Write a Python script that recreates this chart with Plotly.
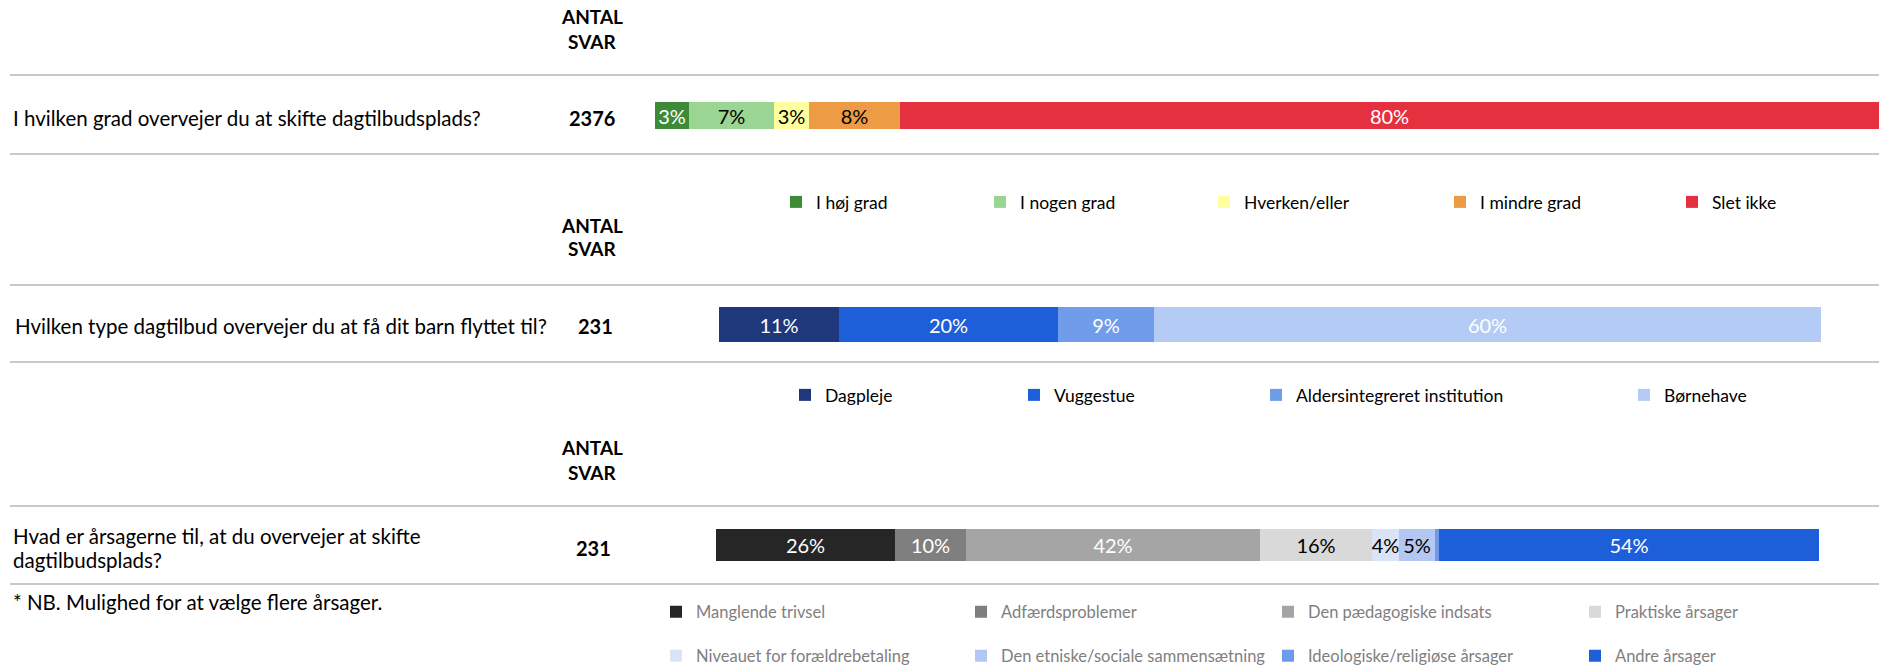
import plotly.graph_objects as go

W, H = 1885, 667

# ---------------- data ----------------
header_lines = ["ANTAL", "SVAR"]

q1_text = ["I hvilken grad overvejer du at skifte dagtilbudsplads?"]
q1_n = "2376"
q1_cats = ["I høj grad", "I nogen grad", "Hverken/eller", "I mindre grad", "Slet ikke"]
q1_vals = [2.8, 6.9, 2.9, 7.4, 80.0]
q1_labels = ["3%", "7%", "3%", "8%", "80%"]

q2_text = ["Hvilken type dagtilbud overvejer du at få dit barn flyttet til?"]
q2_n = "231"
q2_cats = ["Dagpleje", "Vuggestue", "Aldersintegreret institution", "Børnehave"]
q2_vals = [10.9, 19.9, 8.7, 60.5]
q2_labels = ["11%", "20%", "9%", "60%"]

q3_text = ["Hvad er årsagerne til, at du overvejer at skifte", "dagtilbudsplads?"]
q3_n = "231"
q3_cats = ["Manglende trivsel", "Adfærdsproblemer", "Den pædagogiske indsats",
           "Praktiske årsager", "Niveauet for forældrebetaling",
           "Den etniske/sociale sammensætning", "Ideologiske/religiøse årsager",
           "Andre årsager"]
q3_vals = [25.6, 10.2, 42.1, 16.0, 3.9, 5.2, 0.6, 54.4]
q3_labels = ["26%", "10%", "42%", "16%", "4%", "5%", "", "54%"]

note_text = "* NB. Mulighed for at vælge flere årsager."

# ---------------- styles ----------------
FONT = "Lato, sans-serif"
q1_colors = ["#3D8B37", "#9AD594", "#FFFFA0", "#EE9B45", "#E5313F"]
q1_tcol = ["white", "black", "black", "black", "white"]
q2_colors = ["#1F377B", "#1D5FD8", "#6F9DEB", "#B4CBF5"]
q2_tcol = ["white", "white", "white", "white"]
q3_colors = ["#262626", "#7F7F7F", "#A5A5A5", "#D9D9D9", "#DAE3F7", "#B4C7F3", "#6D9BEA", "#1D5FD8"]
q3_tcol = ["white", "white", "white", "black", "black", "black", "black", "white"]

LBL_SIZE = 20
Q_SIZE = 20.5
NUM_SIZE = 20
HEAD_SIZE = 19


def px(x):
    return x / W


def py(y):
    return 1 - y / H


fig = go.Figure()

charts = [
    dict(q=q1_text, cats=q1_cats, vals=q1_vals, labels=q1_labels, colors=q1_colors, tcol=q1_tcol,
         ax="x", ay="y", leg_x=[796, 1000, 1224, 1460, 1692], leg_y=[202] * 5,
         leg_col="black", leg_size=17.5),
    dict(q=q2_text, cats=q2_cats, vals=q2_vals, labels=q2_labels, colors=q2_colors, tcol=q2_tcol,
         ax="x2", ay="y2", leg_x=[805, 1034, 1276, 1644], leg_y=[395] * 4,
         leg_col="black", leg_size=17.5),
    dict(q=q3_text, cats=q3_cats, vals=q3_vals, labels=q3_labels, colors=q3_colors, tcol=q3_tcol,
         ax="x3", ay="y3", leg_x=[676, 981, 1288, 1595] * 2, leg_y=[612] * 4 + [656] * 4,
         leg_col="#7F7F7F", leg_size=16.5),
]

SYM_OFF = 20  # offset of legend symbol inside plotly legend box
legend_layouts = {}
li = 0
for ch in charts:
    ycat = " ".join(ch["q"])
    for i, (c, v, lab, col, tc) in enumerate(zip(ch["cats"], ch["vals"], ch["labels"], ch["colors"], ch["tcol"])):
        li += 1
        lname = "legend" if li == 1 else f"legend{li}"
        fig.add_trace(go.Bar(
            x=[v], y=[ycat], orientation="h", name=c,
            xaxis=ch["ax"], yaxis=ch["ay"],
            marker=dict(color=col, line=dict(width=0)),
            text=[lab], textposition="inside", insidetextanchor="middle",
            textangle=0, constraintext="none",
            insidetextfont=dict(color=tc, size=LBL_SIZE, family=FONT),
            legend=lname, showlegend=True,
            hovertemplate=c + ": %{x}%<extra></extra>",
        ))
        legend_layouts[lname] = dict(
            x=px(ch["leg_x"][i] - SYM_OFF), y=py(ch["leg_y"][i]),
            xref="container", yref="container",
            xanchor="left", yanchor="middle", orientation="h",
            bgcolor="rgba(0,0,0,0)", borderwidth=0, itemwidth=30,
            font=dict(family=FONT, size=ch["leg_size"], color=ch["leg_col"]),
            traceorder="normal",
        )

# ---------------- annotations ----------------
ann = []


def add_text(txt, x, y, anchor="left", bold=False, size=Q_SIZE, color="black"):
    ann.append(dict(
        text=("<b>%s</b>" % txt) if bold else txt,
        x=px(x), y=py(y), xref="paper", yref="paper",
        xanchor=anchor, yanchor="middle", showarrow=False,
        font=dict(family=FONT, size=size, color=color),
    ))


for hy in [(17, 42), (225, 249), (447, 472)]:
    add_text(header_lines[0], 592, hy[0], anchor="center", bold=True, size=HEAD_SIZE)
    add_text(header_lines[1], 592, hy[1], anchor="center", bold=True, size=HEAD_SIZE)

add_text(q1_text[0], 11, 118)
add_text(q1_n, 592, 118, anchor="center", bold=True, size=NUM_SIZE)
add_text(q2_text[0], 13, 326)
add_text(q2_n, 595, 326, anchor="center", bold=True, size=NUM_SIZE)
add_text(q3_text[0], 11, 536)
add_text(q3_text[1], 11, 560)
add_text(q3_n, 593, 548, anchor="center", bold=True, size=NUM_SIZE)
add_text(note_text, 11, 602)

# separator lines
shapes = []
for yy in [75, 154, 285, 362, 506, 584]:
    shapes.append(dict(type="line", xref="paper", yref="paper",
                       x0=px(10), x1=px(1879), y0=py(yy), y1=py(yy),
                       line=dict(color="#C8C8C8", width=2)))

axis_common = dict(visible=False, fixedrange=True, showgrid=False, zeroline=False)

fig.update_layout(
    width=W, height=H, margin=dict(l=0, r=0, t=0, b=0, autoexpand=False),
    paper_bgcolor="white", plot_bgcolor="white",
    barmode="stack", bargap=0,
    font=dict(family=FONT, color="black"),
    annotations=ann, shapes=shapes,
    xaxis=dict(domain=[px(655), px(1879)], range=[0, sum(q1_vals)], anchor="y", **axis_common),
    yaxis=dict(domain=[py(129), py(102)], anchor="x", **axis_common),
    xaxis2=dict(domain=[px(719), px(1821)], range=[0, sum(q2_vals)], anchor="y2", **axis_common),
    yaxis2=dict(domain=[py(342), py(307)], anchor="x2", **axis_common),
    xaxis3=dict(domain=[px(716), px(1819)], range=[0, sum(q3_vals)], anchor="y3", **axis_common),
    yaxis3=dict(domain=[py(561), py(529)], anchor="x3", **axis_common),
    **legend_layouts,
)

fig.write_html("out.html", config={"displayModeBar": False},
               post_script="document.body.style.margin='0px';")
